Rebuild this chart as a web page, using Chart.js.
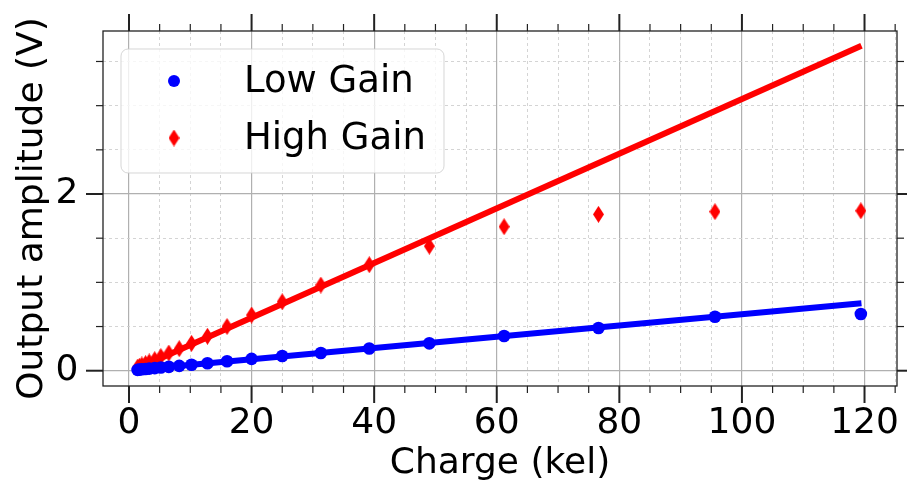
<!DOCTYPE html>
<html>
<head>
<meta charset="utf-8">
<script src="https://cdn.jsdelivr.net/npm/chart.js@4/dist/chart.umd.min.js"></script>
<style>
  html, body { margin: 0; padding: 0; background: #ffffff; }
  #wrap { width: 907px; height: 487px; }
</style>
</head>
<body>
<div id="wrap"><canvas id="c" width="907" height="487"></canvas></div>
<script>
// Injected charge (kel) and measured output amplitude (V)
const charge   = [1.4, 1.7, 2.1, 2.7, 3.3, 4.2, 5.2, 6.5, 8.2, 10.2, 12.8, 16.0, 20.0, 25.0, 31.3, 39.2, 49.0, 61.2, 76.6, 95.6, 119.4];
const lowGain  = [0.010, 0.012, 0.016, 0.019, 0.024, 0.029, 0.036, 0.044, 0.055, 0.068, 0.085, 0.107, 0.134, 0.166, 0.200, 0.252, 0.310, 0.393, 0.483, 0.611, 0.642];
const highGain = [0.040, 0.050, 0.065, 0.080, 0.100, 0.125, 0.160, 0.200, 0.250, 0.310, 0.390, 0.500, 0.630, 0.780, 0.970, 1.200, 1.410, 1.630, 1.770, 1.800, 1.810];

// Linear fits (endpoints)
const fitCharge   = [1.4, 119.5];
const lowGainFit  = [0.012, 0.763];
const highGainFit = [0.025, 3.677];

// Axis ticks
const xMajorTicks = [0, 20, 40, 60, 80, 100, 120];
const xMinorTicks = [5, 10, 15, 25, 30, 35, 45, 50, 55, 65, 70, 75, 85, 90, 95, 105, 110, 115, 125];
const yMajorTicks = [0, 2];
const yMinorTicks = [0.5, 1, 1.5, 2.5, 3, 3.5];

const seriesNames = ['Low Gain', 'High Gain'];
const FONT = 'DejaVu Sans';

const toPoints = (xs, ys) => xs.map((x, i) => ({ x: x, y: ys[i] }));

// thin diamond marker
function diamond(w, h, color) {
  const cv = document.createElement('canvas');
  cv.width = w; cv.height = h;
  const g = cv.getContext('2d');
  g.fillStyle = color;
  g.beginPath();
  g.moveTo(w / 2, 0);
  g.lineTo(w, h / 2);
  g.lineTo(w / 2, h);
  g.lineTo(0, h / 2);
  g.closePath();
  g.fill();
  return cv;
}
const redDiamond = diamond(11, 17, '#ff0000');

const isMajor = (list, v) => list.some(m => Math.abs(m - v) < 1e-9);

// spines and outward tick marks on all four sides
const framePlugin = {
  id: 'frame',
  afterDraw(chart) {
    const { ctx, chartArea: a, scales: { x, y } } = chart;
    ctx.save();
    ctx.strokeStyle = '#222';
    ctx.lineCap = 'butt';
    const tick = (x1, y1, x2, y2, w) => {
      ctx.lineWidth = w;
      ctx.beginPath(); ctx.moveTo(x1, y1); ctx.lineTo(x2, y2); ctx.stroke();
    };
    const MAJ = 17, MIN = 7;
    xMajorTicks.forEach(v => {
      const p = x.getPixelForValue(v);
      tick(p, a.bottom, p, a.bottom + MAJ, 2);
      tick(p, a.top, p, a.top - MAJ, 2);
    });
    xMinorTicks.forEach(v => {
      const p = x.getPixelForValue(v);
      if (p < a.left || p > a.right) return;
      tick(p, a.bottom, p, a.bottom + MIN, 1.2);
      tick(p, a.top, p, a.top - MIN, 1.2);
    });
    yMajorTicks.forEach(v => {
      const p = y.getPixelForValue(v);
      tick(a.left, p, a.left - MAJ, p, 2);
      tick(a.right, p, a.right + MAJ, p, 2);
    });
    yMinorTicks.forEach(v => {
      const p = y.getPixelForValue(v);
      tick(a.left, p, a.left - MIN, p, 1.2);
      tick(a.right, p, a.right + MIN, p, 1.2);
    });
    ctx.lineWidth = 1.3;
    ctx.strokeRect(a.left, a.top, a.right - a.left, a.bottom - a.top);
    ctx.restore();
  }
};

// legend box in the upper-left of the plot
const legendPlugin = {
  id: 'boxLegend',
  afterDatasetsDraw(chart) {
    const { ctx, chartArea: a } = chart;
    const bx = a.left + 18, by = a.top + 18, bw = 323, bh = 124, r = 7;
    ctx.save();
    ctx.beginPath();
    ctx.roundRect(bx, by, bw, bh, r);
    ctx.fillStyle = 'rgba(255,255,255,0.8)';
    ctx.fill();
    ctx.lineWidth = 1;
    ctx.strokeStyle = 'rgba(204,204,204,0.8)';
    ctx.stroke();

    const mx = bx + 53;
    const rows = [by + 32, by + 89];
    // Low Gain marker
    ctx.fillStyle = '#0000ff';
    ctx.beginPath();
    ctx.arc(mx, rows[0], 6, 0, Math.PI * 2);
    ctx.fill();
    // High Gain marker
    ctx.drawImage(redDiamond, mx - redDiamond.width / 2, rows[1] - redDiamond.height / 2);

    ctx.fillStyle = '#000';
    ctx.font = '37px "' + FONT + '"';
    ctx.textBaseline = 'middle';
    ctx.textAlign = 'left';
    seriesNames.forEach((t, i) => ctx.fillText(t, bx + 123, rows[i] + 1));
    ctx.restore();
  }
};

const gridColor = (list) => (c) => (c.tick && isMajor(list, c.tick.value)) ? '#b0b0b0' : '#d0d0d0';
const gridWidth = (list) => (c) => (c.tick && isMajor(list, c.tick.value)) ? 1.2 : 0.9;
const gridDash  = (list) => (c) => (c.tick && isMajor(list, c.tick.value)) ? [] : [3, 3];

new Chart(document.getElementById('c'), {
  type: 'scatter',
  data: {
    datasets: [
      {
        label: seriesNames[0],
        data: toPoints(charge, lowGain),
        backgroundColor: '#0000ff',
        borderColor: '#0000ff',
        pointStyle: 'circle',
        pointRadius: 6.3,
        pointBorderWidth: 0,
        showLine: false
      },
      {
        label: seriesNames[1],
        data: toPoints(charge, highGain),
        backgroundColor: '#ff0000',
        borderColor: '#ff0000',
        pointStyle: redDiamond,
        showLine: false
      },
      {
        label: seriesNames[0] + ' fit',
        data: toPoints(fitCharge, lowGainFit),
        borderColor: '#0000ff',
        borderWidth: 6,
        pointRadius: 0,
        showLine: true
      },
      {
        label: seriesNames[1] + ' fit',
        data: toPoints(fitCharge, highGainFit),
        borderColor: '#ff0000',
        borderWidth: 6,
        pointRadius: 0,
        showLine: true
      }
    ]
  },
  options: {
    responsive: false,
    animation: false,
    devicePixelRatio: 1,
    layout: { padding: { left: 0, right: 10, top: 31, bottom: 0 } },
    plugins: {
      legend: { display: false },
      tooltip: { enabled: false }
    },
    scales: {
      x: {
        type: 'linear',
        min: -4.24,
        max: 125.3,
        afterBuildTicks: s => { s.ticks = [...xMajorTicks, ...xMinorTicks].sort((p, q) => p - q).map(v => ({ value: v })); },
        afterFit: s => { s.height = 101; s.paddingLeft = 0; s.paddingRight = 0; },
        ticks: {
          autoSkip: false,
          maxRotation: 0,
          padding: 16,
          color: '#000',
          font: { family: FONT, size: 36 },
          callback: v => isMajor(xMajorTicks, v) ? String(v) : ''
        },
        grid: { drawTicks: false, color: gridColor(xMajorTicks), lineWidth: gridWidth(xMajorTicks) },
        border: { display: false, dash: gridDash(xMajorTicks) },
        title: {
          display: true,
          text: 'Charge (kel)',
          color: '#000',
          font: { family: FONT, size: 36 },
          padding: { top: 0, bottom: 2 }
        }
      },
      y: {
        type: 'linear',
        min: -0.173,
        max: 3.845,
        afterBuildTicks: s => { s.ticks = [...yMajorTicks, ...yMinorTicks].sort((p, q) => p - q).map(v => ({ value: v })); },
        afterFit: s => { s.width = 103; s.paddingTop = 0; s.paddingBottom = 0; },
        ticks: {
          autoSkip: false,
          padding: 24.7,
          color: '#000',
          font: { family: FONT, size: 36 },
          callback: v => isMajor(yMajorTicks, v) ? String(v) : ''
        },
        grid: { drawTicks: false, color: gridColor(yMajorTicks), lineWidth: gridWidth(yMajorTicks) },
        border: { display: false, dash: gridDash(yMajorTicks) },
        title: {
          display: true,
          text: 'Output amplitude (V)',
          color: '#000',
          font: { family: FONT, size: 36 },
          padding: { top: 11, bottom: 0 }
        }
      }
    }
  },
  plugins: [framePlugin, legendPlugin]
});
</script>
</body>
</html>
